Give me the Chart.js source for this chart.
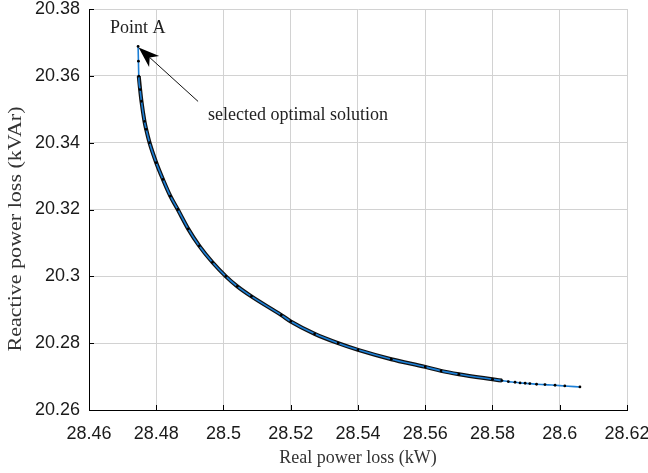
<!DOCTYPE html>
<html>
<head>
<meta charset="utf-8">
<script src="https://cdn.jsdelivr.net/npm/chart.js@4/dist/chart.umd.min.js"></script>
<style>
  html, body { margin: 0; padding: 0; background: #fff; }
  #wrap { width: 648px; height: 473px; position: relative; }
</style>
</head>
<body>
<div id="wrap"><canvas id="c"></canvas></div>
<script>
// ---- data ----
const realLoss = [
  28.4746, 28.4747, 28.4748, 28.4752, 28.4756, 28.4765, 28.4770, 28.4780,
  28.4800, 28.4820, 28.4842, 28.4864, 28.4895, 28.4928, 28.4967, 28.5007,
  28.5041, 28.5083, 28.5172, 28.5200, 28.5271, 28.5341, 28.5400, 28.5499,
  28.5600, 28.5647, 28.5700, 28.5800, 28.5828, 28.5847, 28.5867, 28.5882,
  28.5897, 28.5911, 28.5931, 28.5956, 28.5986, 28.6015, 28.6060
];
const reactiveLoss = [
  20.3688, 20.3644, 20.3599, 20.3559, 20.3524, 20.3464, 20.3440, 20.3400,
  20.3340, 20.3290, 20.3240, 20.3200, 20.3142, 20.3091, 20.3042, 20.3000,
  20.2970, 20.2940, 20.2884, 20.2865, 20.2828, 20.2800, 20.2780, 20.2752,
  20.2729, 20.2717, 20.2707, 20.2692, 20.2688, 20.2685, 20.2683, 20.2681,
  20.2680, 20.2679, 20.2677, 20.2676, 20.2674, 20.2672, 20.2669
];
const denseStart = 2;    // dense (black) band of the front starts here
const denseEnd = 29;     // ... and ends here
const xTickLabels = ['28.46','28.48','28.5','28.52','28.54','28.56','28.58','28.6','28.62'];
const yTickLabels = ['20.26','20.28','20.3','20.32','20.34','20.36','20.38'];
const xTitle = 'Real power loss (kW)';
const yTitle = 'Reactive power loss (kVAr)';
const pointLabel = 'Point A';
const arrowLabel = 'selected optimal solution';

// ---- build ----
const pts = realLoss.map((x, i) => ({ x: x, y: reactiveLoss[i] }));
const densePts = pts.slice(denseStart, denseEnd);
const xTickVals = xTickLabels.map(Number);
const yTickVals = yTickLabels.map(Number);

const SANS = '"Liberation Sans", Arial, sans-serif';
const SERIF = '"Liberation Serif", "Times New Roman", serif';

const annot = {
  id: 'annot',
  afterDraw(chart) {
    const ctx = chart.ctx;
    const xs = chart.scales.x, ys = chart.scales.y;
    const a = chart.chartArea;
    ctx.save();
    // inward tick marks
    ctx.strokeStyle = '#000';
    ctx.lineWidth = 1;
    ctx.beginPath();
    xTickVals.forEach(v => {
      const px = Math.round(xs.getPixelForValue(v)) + 0.5;
      ctx.moveTo(px, a.bottom); ctx.lineTo(px, a.bottom - 5);
    });
    yTickVals.forEach(v => {
      const py = Math.round(ys.getPixelForValue(v)) + 0.5;
      ctx.moveTo(a.left, py); ctx.lineTo(a.left + 5, py);
    });
    ctx.stroke();

    // y title
    ctx.save();
    ctx.font = '18px ' + SERIF;
    ctx.fillStyle = '#333';
    ctx.translate(20.5, 229);
    ctx.rotate(-Math.PI / 2);
    const w = ctx.measureText(yTitle).width;
    ctx.scale(245 / w, 1);
    ctx.textAlign = 'center';
    ctx.textBaseline = 'alphabetic';
    ctx.fillText(yTitle, 0, 0);
    ctx.restore();

    // Point A annotation
    const px = xs.getPixelForValue(realLoss[0]);
    const py = ys.getPixelForValue(reactiveLoss[0]);
    ctx.font = '18px ' + SERIF;
    ctx.fillStyle = '#222';
    ctx.textAlign = 'left';
    ctx.textBaseline = 'alphabetic';
    ctx.fillText(pointLabel, px - 28, py - 13.5);
    ctx.fillText(arrowLabel, px + 70, py + 73.5);

    // arrow
    const tx = px + 0.5, ty = py + 1;
    const sx = px + 60, sy = py + 55;
    const ang = Math.atan2(sy - ty, sx - tx);
    const L = 21, H = 7.5, N = 15;
    const ux = Math.cos(ang), uy = Math.sin(ang);
    const nx = -uy, ny = ux;
    ctx.strokeStyle = '#111';
    ctx.lineWidth = 1;
    ctx.beginPath();
    ctx.moveTo(sx, sy);
    ctx.lineTo(tx + ux * N, ty + uy * N);
    ctx.stroke();
    ctx.fillStyle = '#000';
    ctx.beginPath();
    ctx.moveTo(tx, ty);
    ctx.lineTo(tx + ux * L + nx * H, ty + uy * L + ny * H);
    ctx.lineTo(tx + ux * N, ty + uy * N);
    ctx.lineTo(tx + ux * L - nx * H, ty + uy * L - ny * H);
    ctx.closePath();
    ctx.fill();
    ctx.restore();
  }
};

new Chart(document.getElementById('c'), {
  type: 'line',
  data: {
    datasets: [
      {
        data: pts,
        borderColor: '#1c7fd6',
        borderWidth: 1.6,
        pointRadius: 1.4,
        pointBackgroundColor: '#000',
        pointBorderWidth: 0,
        cubicInterpolationMode: 'monotone',
        order: 0
      },
      {
        data: densePts,
        borderColor: '#111',
        borderWidth: 4,
        pointRadius: 0,
        cubicInterpolationMode: 'monotone',
        order: 1
      }
    ]
  },
  options: {
    responsive: true,
    maintainAspectRatio: false,
    animation: false,
    layout: { padding: { left: 0, right: 21, top: 9, bottom: 0 } },
    plugins: { legend: { display: false }, tooltip: { enabled: false } },
    scales: {
      x: {
        type: 'linear',
        min: 28.46, max: 28.62,
        afterBuildTicks(s) { s.ticks = xTickVals.map(v => ({ value: v })); },
        afterFit(s) { s.height = 63; s.paddingLeft = 0; s.paddingRight = 0; },
        ticks: {
          callback: (v, i) => xTickLabels[i],
          font: { family: SANS, size: 18 },
          color: '#1a1a1a',
          padding: 13,
          maxRotation: 0,
          autoSkip: false
        },
        grid: { color: '#d2d2d2', lineWidth: 1, drawTicks: false },
        border: { display: true, color: '#000', width: 1 },
        title: {
          display: true,
          text: xTitle,
          font: { family: SERIF, size: 18 },
          color: '#333',
          padding: { top: 0, bottom: 4 }
        }
      },
      y: {
        type: 'linear',
        min: 20.26, max: 20.38,
        afterBuildTicks(s) { s.ticks = yTickVals.map(v => ({ value: v })); },
        afterFit(s) { s.width = 89; s.paddingTop = 0; s.paddingBottom = 0; },
        ticks: {
          callback: (v, i) => yTickLabels[i],
          font: { family: SANS, size: 18 },
          color: '#1a1a1a',
          padding: 9,
          autoSkip: false
        },
        grid: { color: '#d2d2d2', lineWidth: 1, drawTicks: false },
        border: { display: true, color: '#000', width: 1 }
      }
    }
  },
  plugins: [annot]
});
</script>
</body>
</html>
